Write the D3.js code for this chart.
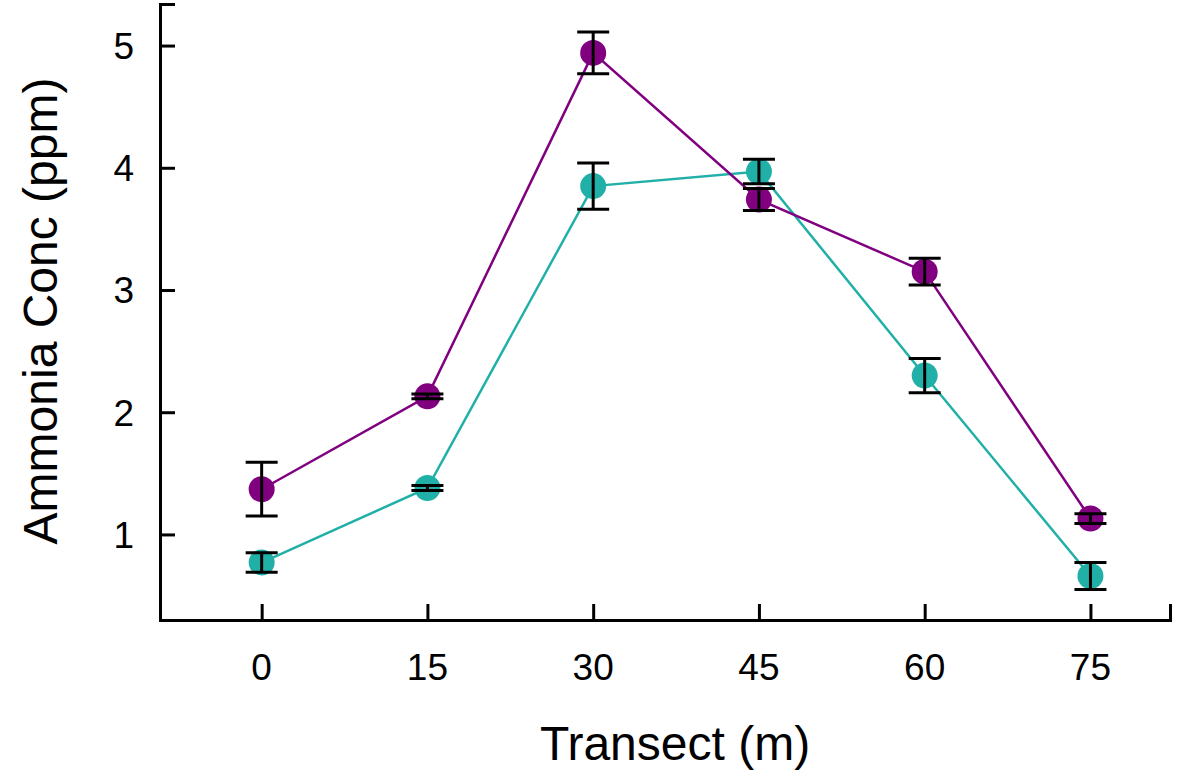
<!DOCTYPE html>
<html>
<head>
<meta charset="utf-8">
<script src="https://cdn.jsdelivr.net/npm/d3@7"></script>
<style>
	body { margin: 0; background: #fff; }
	svg text { font-family: "Liberation Sans", Arial, sans-serif; fill: #000; }
</style>
</head>
<body>
<div id="chart"></div>
<script>
const transect = [0, 15, 30, 45, 60, 75];
const purpleMean = [1.37, 2.13, 4.94, 3.74, 3.15, 1.13];
const purpleErr = [0.22, 0.02, 0.17, 0.09, 0.11, 0.04];
const tealMean = [0.77, 1.38, 3.85, 3.97, 2.30, 0.66];
const tealErr = [0.08, 0.02, 0.19, 0.10, 0.14, 0.11];
const yTicks = [1, 2, 3, 4, 5];

const width = 1185;
const height = 773;
const margin = { top: 4, right: 15, bottom: 153, left: 160 };

const svg = d3.select('#chart').append('svg')
	.attr('width', width)
	.attr('height', height);

const x = d3.scaleLinear()
	.domain([-9.2, 82.2])
	.range([margin.left, width - margin.right]);
const y = d3.scaleLinear()
	.domain([0.3, 5.34])
	.range([height - margin.bottom, margin.top]);

// axes, ticks pointing inward
const xAxis = svg.append('g')
	.attr('transform', `translate(0, ${height - margin.bottom})`)
	.call(d3.axisTop(x).tickValues(transect).tickSize(16).tickFormat(''));
const yAxis = svg.append('g')
	.attr('transform', `translate(${margin.left}, 0)`)
	.call(d3.axisRight(y).tickValues(yTicks).tickSize(15).tickFormat(''));
[xAxis, yAxis].forEach(ax => {
	ax.select('.domain').attr('stroke', '#000').attr('stroke-width', 3);
	ax.selectAll('.tick line').attr('stroke', '#000').attr('stroke-width', 3);
});

svg.append('g').selectAll('text')
	.data(transect)
	.enter()
	.append('text')
	.attr('x', d => x(d))
	.attr('y', 680)
	.attr('text-anchor', 'middle')
	.style('font-size', '37px')
	.text(d => d);

svg.append('g').selectAll('text')
	.data(yTicks)
	.enter()
	.append('text')
	.attr('x', 134)
	.attr('y', d => y(d))
	.attr('dy', '0.36em')
	.attr('text-anchor', 'end')
	.style('font-size', '37px')
	.text(d => d);

svg.append('text')
	.attr('x', 675)
	.attr('y', 760)
	.attr('text-anchor', 'middle')
	.style('font-size', '48px')
	.text('Transect (m)');

svg.append('text')
	.attr('transform', 'translate(57, 311) rotate(-90)')
	.attr('text-anchor', 'middle')
	.style('font-size', '48px')
	.text('Ammonia Conc (ppm)');

const series = [
	{ mean: tealMean, err: tealErr, color: '#21b0a8', lw: 2.5 },
	{ mean: purpleMean, err: purpleErr, color: '#800080', lw: 2.5 },
];

const line = d3.line()
	.x(d => x(d[0]))
	.y(d => y(d[1]));

series.forEach(s => {
	svg.append('path')
		.datum(transect.map((t, i) => [t, s.mean[i]]))
		.attr('fill', 'none')
		.attr('stroke', s.color)
		.attr('stroke-width', s.lw)
		.attr('d', line);
});

series.forEach(s => {
	svg.append('g').selectAll('circle')
		.data(transect)
		.enter()
		.append('circle')
		.attr('cx', d => x(d))
		.attr('cy', (d, i) => y(s.mean[i]))
		.attr('r', 13)
		.attr('fill', s.color);
});

// error bars
const capHalf = 16;
series.forEach(s => {
	const g = svg.append('g').attr('stroke', '#000').attr('stroke-width', 3);
	transect.forEach((t, i) => {
		const lo = y(s.mean[i] - s.err[i]);
		const hi = y(s.mean[i] + s.err[i]);
		g.append('line').attr('x1', x(t)).attr('x2', x(t)).attr('y1', lo).attr('y2', hi);
		g.append('line').attr('x1', x(t) - capHalf).attr('x2', x(t) + capHalf).attr('y1', lo).attr('y2', lo);
		g.append('line').attr('x1', x(t) - capHalf).attr('x2', x(t) + capHalf).attr('y1', hi).attr('y2', hi);
	});
});
</script>
</body>
</html>
